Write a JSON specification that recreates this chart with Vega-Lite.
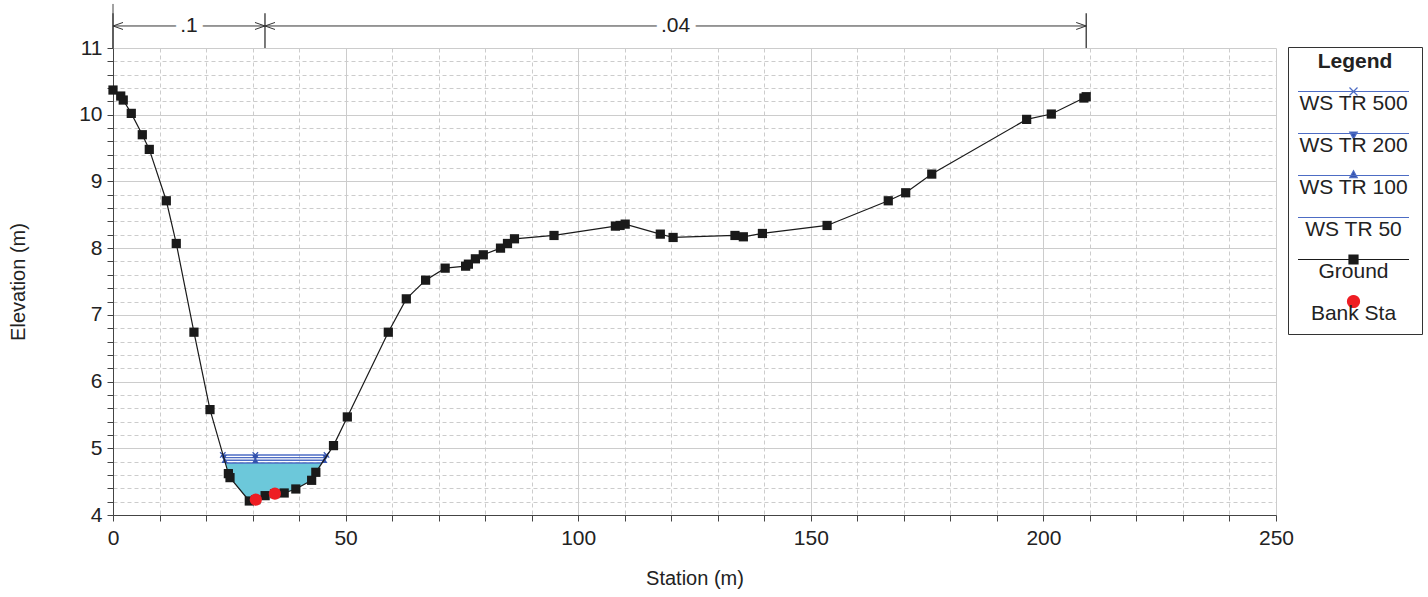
{
  "$schema": "https://vega.github.io/schema/vega-lite/v6.json",
  "width": 1163,
  "height": 467,
  "autosize": {"type": "none"},
  "padding": {"left": 113, "top": 48, "right": 152, "bottom": 82},
  "background": "white",
  "config": {
    "view": {"stroke": null},
    "font": "Liberation Sans",
    "axis": {"labelFont": "Liberation Sans", "titleFont": "Liberation Sans"}
  },
  "datasets": {
    "ground": [
      {"station": 0, "elev": 10.37}, {"station": 1.66, "elev": 10.28}, {"station": 2.2, "elev": 10.22},
      {"station": 3.93, "elev": 10.02}, {"station": 6.3, "elev": 9.7}, {"station": 7.8, "elev": 9.48},
      {"station": 11.46, "elev": 8.71}, {"station": 13.6, "elev": 8.07}, {"station": 17.4, "elev": 6.74},
      {"station": 20.85, "elev": 5.58}, {"station": 24.8, "elev": 4.62}, {"station": 25.15, "elev": 4.56},
      {"station": 29.3, "elev": 4.21}, {"station": 30.7, "elev": 4.23}, {"station": 32.7, "elev": 4.29},
      {"station": 34.8, "elev": 4.32}, {"station": 36.8, "elev": 4.33}, {"station": 39.3, "elev": 4.39},
      {"station": 42.7, "elev": 4.52}, {"station": 43.6, "elev": 4.64}, {"station": 47.4, "elev": 5.04},
      {"station": 50.37, "elev": 5.47}, {"station": 59.18, "elev": 6.74}, {"station": 63.05, "elev": 7.24},
      {"station": 67.2, "elev": 7.52}, {"station": 71.4, "elev": 7.7}, {"station": 75.8, "elev": 7.73},
      {"station": 76.4, "elev": 7.76}, {"station": 77.9, "elev": 7.84}, {"station": 79.6, "elev": 7.9},
      {"station": 83.3, "elev": 8.0}, {"station": 84.8, "elev": 8.07}, {"station": 86.3, "elev": 8.14},
      {"station": 94.8, "elev": 8.19}, {"station": 108.0, "elev": 8.33}, {"station": 109.0, "elev": 8.34},
      {"station": 110.1, "elev": 8.36}, {"station": 117.65, "elev": 8.21}, {"station": 120.4, "elev": 8.16},
      {"station": 133.7, "elev": 8.19}, {"station": 135.5, "elev": 8.17}, {"station": 139.6, "elev": 8.22},
      {"station": 153.5, "elev": 8.34}, {"station": 166.65, "elev": 8.71}, {"station": 170.4, "elev": 8.83},
      {"station": 176.0, "elev": 9.11}, {"station": 196.4, "elev": 9.93}, {"station": 201.7, "elev": 10.01},
      {"station": 208.7, "elev": 10.25}, {"station": 209.2, "elev": 10.27}
    ],
    "water": [
      {"station": 24.15, "ground": 4.78, "ws": 4.78}, {"station": 24.8, "ground": 4.62, "ws": 4.78},
      {"station": 25.15, "ground": 4.56, "ws": 4.78}, {"station": 29.3, "ground": 4.21, "ws": 4.78},
      {"station": 30.7, "ground": 4.23, "ws": 4.78}, {"station": 32.7, "ground": 4.29, "ws": 4.78},
      {"station": 34.8, "ground": 4.32, "ws": 4.78}, {"station": 36.8, "ground": 4.33, "ws": 4.78},
      {"station": 39.3, "ground": 4.39, "ws": 4.78}, {"station": 42.7, "ground": 4.52, "ws": 4.78},
      {"station": 43.6, "ground": 4.64, "ws": 4.78}, {"station": 44.95, "ground": 4.78, "ws": 4.78}
    ],
    "ws": [
      {"profile": "WS TR 500", "station": 23.6, "elev": 4.9}, {"profile": "WS TR 500", "station": 30.6, "elev": 4.9}, {"profile": "WS TR 500", "station": 45.9, "elev": 4.9},
      {"profile": "WS TR 200", "station": 23.8, "elev": 4.86}, {"profile": "WS TR 200", "station": 30.6, "elev": 4.86}, {"profile": "WS TR 200", "station": 45.7, "elev": 4.86},
      {"profile": "WS TR 100", "station": 24.0, "elev": 4.82}, {"profile": "WS TR 100", "station": 30.6, "elev": 4.82}, {"profile": "WS TR 100", "station": 45.4, "elev": 4.82},
      {"profile": "WS TR 50", "station": 24.15, "elev": 4.78}, {"profile": "WS TR 50", "station": 30.6, "elev": 4.78}, {"profile": "WS TR 50", "station": 44.95, "elev": 4.78}
    ],
    "banks": [
      {"station": 30.7, "elev": 4.23}, {"station": 34.8, "elev": 4.32}
    ],
    "nvals": [
      {"n": ".1", "from": 0, "to": 32.67},
      {"n": ".04", "from": 32.67, "to": 209.2}
    ],
    "breaks": [
      {"station": 0}, {"station": 32.67}, {"station": 209.2}
    ],
    "legendKeys": [
      {"series": "WS TR 500"}, {"series": "WS TR 200"}, {"series": "WS TR 100"},
      {"series": "WS TR 50"}, {"series": "Ground"}, {"series": "Bank Sta"}
    ]
  },
  "layer": [
    {
      "data": {"name": "water"},
      "mark": {"type": "area", "color": "#6cc8da", "opacity": 1},
      "encoding": {
        "x": {
          "field": "station", "type": "quantitative",
          "scale": {"domain": [0, 250], "nice": false, "zero": false},
          "axis": {
            "values": [0, 10, 20, 30, 40, 50, 60, 70, 80, 90, 100, 110, 120, 130, 140, 150, 160, 170, 180, 190, 200, 210, 220, 230, 240, 250],
            "tickCount": 60,
            "labelExpr": "datum.value % 50 === 0 ? datum.label : ''",
            "labelOverlap": false, "labelFlush": false,
            "labelFontSize": 21, "labelColor": "#222", "labelPadding": 6,
            "tickSize": 6, "tickColor": "#444", "domainColor": "#444",
            "grid": true, "gridColor": "#cccccc",
            "gridDash": {"condition": {"test": "datum.value % 50 === 0", "value": []}, "value": [4, 3]},
            "title": "Station (m)", "titleFontSize": 20, "titleFontWeight": "normal", "titleColor": "#222",
            "titleY": 63, "titleBaseline": "middle"
          }
        },
        "y": {
          "field": "ground", "type": "quantitative",
          "scale": {"domain": [4, 11], "nice": false, "zero": false},
          "axis": {
            "values": [4, 4.2, 4.4, 4.6, 4.8, 5, 5.2, 5.4, 5.6, 5.8, 6, 6.2, 6.4, 6.6, 6.8, 7, 7.2, 7.4, 7.6, 7.8, 8, 8.2, 8.4, 8.6, 8.8, 9, 9.2, 9.4, 9.6, 9.8, 10, 10.2, 10.4, 10.6, 10.8, 11],
            "tickCount": 80,
            "labelExpr": "abs(datum.value - round(datum.value)) < 0.001 ? format(round(datum.value), 'd') : ''",
            "labelOverlap": false, "labelFlush": false,
            "labelFontSize": 21, "labelColor": "#222", "labelPadding": 5,
            "tickSize": 6, "tickColor": "#444", "domainColor": "#444",
            "grid": true, "gridColor": "#cccccc",
            "gridDash": {"condition": {"test": "abs(datum.value - round(datum.value)) < 0.001", "value": []}, "value": [4, 3]},
            "title": "Elevation (m)", "titleFontSize": 20, "titleFontWeight": "normal", "titleColor": "#222",
            "titleX": -95, "titleY": 233.5, "titleAngle": 270, "titleBaseline": "middle", "titleAlign": "center"
          }
        },
        "y2": {"field": "ws"}
      }
    },
    {
      "data": {"name": "ws"},
      "mark": {"type": "line", "color": "#4d6cc4", "strokeWidth": 1.4},
      "encoding": {
        "x": {"field": "station", "type": "quantitative"},
        "y": {"field": "elev", "type": "quantitative"},
        "detail": {"field": "profile"}
      }
    },
    {
      "data": {"name": "ws"},
      "transform": [{"filter": "datum.profile === 'WS TR 500'"}],
      "mark": {"type": "point", "shape": "M-1,-1L1,1M-1,1L1,-1", "filled": false, "color": "#3553ad", "strokeWidth": 1.2, "size": 30, "opacity": 1},
      "encoding": {
        "x": {"field": "station", "type": "quantitative"},
        "y": {"field": "elev", "type": "quantitative"}
      }
    },
    {
      "data": {"name": "ws"},
      "transform": [{"filter": "datum.profile === 'WS TR 200'"}],
      "mark": {"type": "point", "shape": "triangle-down", "filled": true, "color": "#3553ad", "size": 40, "opacity": 1},
      "encoding": {
        "x": {"field": "station", "type": "quantitative"},
        "y": {"field": "elev", "type": "quantitative"}
      }
    },
    {
      "data": {"name": "ws"},
      "transform": [{"filter": "datum.profile === 'WS TR 100'"}],
      "mark": {"type": "point", "shape": "triangle-up", "filled": true, "color": "#3553ad", "size": 40, "opacity": 1},
      "encoding": {
        "x": {"field": "station", "type": "quantitative"},
        "y": {"field": "elev", "type": "quantitative"}
      }
    },
    {
      "data": {"name": "ground"},
      "mark": {"type": "line", "color": "#1a1a1a", "strokeWidth": 1.2},
      "encoding": {
        "x": {"field": "station", "type": "quantitative"},
        "y": {"field": "elev", "type": "quantitative"}
      }
    },
    {
      "data": {"name": "ground"},
      "mark": {"type": "point", "shape": "square", "filled": true, "color": "#1a1a1a", "size": 85, "opacity": 1},
      "encoding": {
        "x": {"field": "station", "type": "quantitative"},
        "y": {"field": "elev", "type": "quantitative"}
      }
    },
    {
      "data": {"name": "banks"},
      "mark": {"type": "point", "shape": "circle", "filled": true, "color": "#ee1d23", "size": 150, "opacity": 1},
      "encoding": {
        "x": {"field": "station", "type": "quantitative"},
        "y": {"field": "elev", "type": "quantitative"}
      }
    },
    {
      "data": {"name": "breaks"},
      "mark": {"type": "rule", "color": "#222", "strokeWidth": 1.2},
      "encoding": {
        "x": {"field": "station", "type": "quantitative"},
        "y": {"datum": 11},
        "y2": {"datum": 11.52}
      }
    },
    {
      "data": {"name": "breaks"},
      "transform": [{"filter": "datum.station === 0"}],
      "mark": {"type": "rule", "color": "#444", "strokeWidth": 1},
      "encoding": {
        "x": {"field": "station", "type": "quantitative"},
        "y": {"datum": 11},
        "y2": {"datum": 11.66}
      }
    },
    {
      "data": {"name": "nvals"},
      "mark": {"type": "rule", "color": "#333", "strokeWidth": 1},
      "encoding": {
        "x": {"field": "from", "type": "quantitative"},
        "x2": {"field": "to"},
        "y": {"datum": 11.33}
      }
    },
    {
      "data": {"name": "nvals"},
      "mark": {"type": "point", "shape": "M2,-0.7L0,0L2,0.7", "filled": false, "color": "#333", "strokeWidth": 1, "size": 100, "opacity": 1},
      "encoding": {
        "x": {"field": "from", "type": "quantitative"},
        "y": {"datum": 11.33}
      }
    },
    {
      "data": {"name": "nvals"},
      "mark": {"type": "point", "shape": "M-2,-0.7L0,0L-2,0.7", "filled": false, "color": "#333", "strokeWidth": 1, "size": 100, "opacity": 1},
      "encoding": {
        "x": {"field": "to", "type": "quantitative"},
        "y": {"datum": 11.33}
      }
    },
    {
      "data": {"name": "nvals"},
      "transform": [{"calculate": "(datum.from + datum.to) / 2", "as": "mid"}],
      "mark": {"type": "text", "fontSize": 21, "color": "white", "stroke": "white", "strokeWidth": 12, "baseline": "middle", "align": "center"},
      "encoding": {
        "x": {"field": "mid", "type": "quantitative"},
        "y": {"datum": 11.33},
        "text": {"field": "n"}
      }
    },
    {
      "data": {"name": "nvals"},
      "transform": [{"calculate": "(datum.from + datum.to) / 2", "as": "mid"}],
      "mark": {"type": "text", "fontSize": 21, "color": "#222", "baseline": "middle", "align": "center"},
      "encoding": {
        "x": {"field": "mid", "type": "quantitative"},
        "y": {"datum": 11.33},
        "text": {"field": "n"}
      }
    },
    {
      "data": {"name": "legendKeys"},
      "mark": {"type": "point", "opacity": 0},
      "encoding": {
        "fill": {
          "field": "series", "type": "nominal",
          "scale": {"domain": ["WS TR 500", "WS TR 200", "WS TR 100", "WS TR 50", "Ground", "Bank Sta"],
                    "range": ["#3553ad", "#3553ad", "#3553ad", "#3553ad", "#1a1a1a", "#ee1d23"]},
          "legend": {"title": "Legend", "orient": "none", "legendX": 1175, "legendY": -1, "direction": "vertical",
                     "symbolSize": 100, "symbolStrokeWidth": 1.2, "symbolFillColor": "white", "symbolStrokeColor": "black", "symbolOpacity": 1, "symbolOffset": 45,
                     "labelAlign": "center", "labelOffset": -10.5, "labelBaseline": "line-top", "labelLineHeight": 36,
                     "labelFontSize": 21, "labelFont": "Liberation Sans", "labelColor": "#222", "labelLimit": 300,
                     "titleFontSize": 21, "titleFont": "Liberation Sans", "titleFontWeight": "bold", "titleAnchor": "middle", "titleAlign": "center", "titleBaseline": "line-top", "titleLineHeight": 10, "titlePadding": 3, "titleColor": "#222",
                     "padding": 10, "strokeColor": "#333", "fillColor": "white", "rowPadding": 9}
        },
        "stroke": {
          "field": "series", "type": "nominal",
          "scale": {"domain": ["WS TR 500", "WS TR 200", "WS TR 100", "WS TR 50", "Ground", "Bank Sta"],
                    "range": ["#4d6cc4", "#4d6cc4", "#4d6cc4", "#4d6cc4", "#1a1a1a", "#ee1d23"]},
          "legend": {"title": "Legend", "orient": "none", "legendX": 1175, "legendY": -1, "direction": "vertical",
                     "symbolSize": 100, "symbolStrokeWidth": 1.2, "symbolFillColor": "white", "symbolStrokeColor": "black", "symbolOpacity": 1, "symbolOffset": 45,
                     "labelAlign": "center", "labelOffset": -10.5, "labelBaseline": "line-top", "labelLineHeight": 36,
                     "labelFontSize": 21, "labelFont": "Liberation Sans", "labelColor": "#222", "labelLimit": 300,
                     "titleFontSize": 21, "titleFont": "Liberation Sans", "titleFontWeight": "bold", "titleAnchor": "middle", "titleAlign": "center", "titleBaseline": "line-top", "titleLineHeight": 10, "titlePadding": 3, "titleColor": "#222",
                     "padding": 10, "strokeColor": "#333", "fillColor": "white", "rowPadding": 9}
        },
        "shape": {
          "field": "series", "type": "nominal",
          "scale": {"domain": ["WS TR 500", "WS TR 200", "WS TR 100", "WS TR 50", "Ground", "Bank Sta"],
                    "range": ["M-11.1,0H11.1M-0.8,-0.8L0.8,0.8M-0.8,0.8L0.8,-0.8",
                              "M-11.1,0H11.1M-0.75,-0.3L0.75,-0.3L0,1.1Z",
                              "M-11.1,0H11.1M-0.75,0.45L0.75,0.45L0,-0.95Z",
                              "M-11.1,0H11.1",
                              "M-11.1,0H11.1M-0.9,-0.9H0.9V0.9H-0.9Z",
                              "M1.2,0A1.2,1.2,0,1,1,-1.2,0A1.2,1.2,0,1,1,1.2,0Z"]},
          "legend": {"title": "Legend", "orient": "none", "legendX": 1175, "legendY": -1, "direction": "vertical",
                     "symbolSize": 100, "symbolStrokeWidth": 1.2, "symbolFillColor": "white", "symbolStrokeColor": "black", "symbolOpacity": 1, "symbolOffset": 45,
                     "labelAlign": "center", "labelOffset": -10.5, "labelBaseline": "line-top", "labelLineHeight": 36,
                     "labelFontSize": 21, "labelFont": "Liberation Sans", "labelColor": "#222", "labelLimit": 300,
                     "titleFontSize": 21, "titleFont": "Liberation Sans", "titleFontWeight": "bold", "titleAnchor": "middle", "titleAlign": "center", "titleBaseline": "line-top", "titleLineHeight": 10, "titlePadding": 3, "titleColor": "#222",
                     "padding": 10, "strokeColor": "#333", "fillColor": "white", "rowPadding": 9}
        }
      }
    }
  ]
}
